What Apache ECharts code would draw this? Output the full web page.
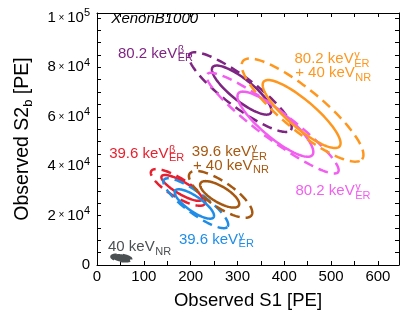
<!DOCTYPE html>
<html><head><meta charset="utf-8">
<script src="https://cdn.jsdelivr.net/npm/echarts@6/dist/echarts.min.js"></script>
<style>html,body{margin:0;padding:0;background:#fff}#c{width:407px;height:315px}</style>
</head><body><div id="c"></div>
<script>
const FONT = '"Liberation Sans", Arial, Helvetica, sans-serif';

// ---- axis ticks ----
const xTickLabels = [0, 100, 200, 300, 400, 500, 600];
const yTickValues = [0, 20000, 40000, 60000, 80000, 100000];
const yTickMantissa = ['0', '2', '4', '6', '8', '1'];
const yTickExponent = ['', '4', '4', '4', '4', '5'];

// ---- contour groups ----
const groupNames = ['80.2 keV β ER', '80.2 keV γ ER', '80.2 keV γ ER + 40 keV NR',
                    '39.6 keV β ER', '39.6 keV γ ER', '39.6 keV γ ER + 40 keV NR', '40 keV NR'];
const groupColors = ['#7e2482', '#f25ef0', '#ff971f', '#e6202e', '#1f8de8', '#a65810', '#4b5053'];

// ---- contour ellipses (data units): centre, end of major axis, end of minor axis ----
const contourGroup  = [0, 0, 1, 1, 2, 2, 3, 3, 4, 4, 5, 5, 6, 6];
const contourLevel  = ['outer','inner','outer','inner','outer','inner','outer','inner','outer','inner','outer','inner','outer','inner'];
const centerS1      = [306, 309, 375, 381, 439, 437, 173, 181, 211, 208, 264, 262, 52, 52];
const centerS2      = [70000, 70800, 57400, 57000, 62700, 61100, 31400, 31200, 25000, 24700, 28600, 28600, 2840, 2840];
const majorEndS1    = [414, 371, 515, 460, 566, 518, 230, 224, 279, 249, 330, 303, 73, 68];
const majorEndS2    = [54600, 61500, 37600, 44500, 42800, 48000, 24700, 26500, 15500, 19300, 20100, 24100, 2270, 2400];
const minorEndS1    = [326, 323, 393, 399, 467, 456, 184, 187, 224, 217, 279, 270, 53, 52.5];
const minorEndS2    = [74800, 74300, 62200, 61200, 69000, 65300, 34600, 33500, 28400, 27200, 32800, 31500, 4060, 3800];

// ---- annotations (anchor in data units) ----
const labelS1    = [44.8, 421.7, 423.2, 26, 202.6, 204.8, 423.9, 174.9, 23.5, 30.7];
const labelS2    = [85600, 83370, 77570, 45030, 45640, 40160, 29940, 10220, 7220, 99600];
const labelMain  = ['80.2 keV', '80.2 keV', '+ 40 keV', '39.6 keV', '39.6 keV', '+ 40 keV', '80.2 keV', '39.6 keV', '40 keV', 'XenonB1000'];
const labelSup   = ['β', 'γ', '', 'β', 'γ', '', 'γ', 'γ', '', ''];
const labelSub   = ['ER', 'ER', 'NR', 'ER', 'ER', 'NR', 'ER', 'ER', 'NR', ''];
const labelGroup = [0, 2, 2, 3, 5, 5, 1, 4, 6, -1];

const contourData = centerS1.map((v, i) => [v, centerS2[i], majorEndS1[i], majorEndS2[i], minorEndS1[i], minorEndS2[i]]);
const labelData = labelS1.map((v, i) => [v, labelS2[i]]);

const mctx = document.createElement('canvas').getContext('2d');
function textWidth(t, size, style) { mctx.font = (style || 'normal') + ' ' + size + 'px ' + FONT; return mctx.measureText(t).width; }

function renderContour(params, api) {
  const i = params.dataIndex;
  const cx = api.value(0), cy = api.value(1);
  const ax = api.value(2) - cx, ay = api.value(3) - cy;
  const bx = api.value(4) - cx, by = api.value(5) - cy;
  const pts = [];
  const N = 120;
  for (let k = 0; k < N; k++) {
    const t = 2 * Math.PI * k / N;
    pts.push(api.coord([cx + Math.cos(t) * ax + Math.sin(t) * bx, cy + Math.cos(t) * ay + Math.sin(t) * by]));
  }
  const g = contourGroup[i];
  const col = groupColors[g];
  const dashed = contourLevel[i] === 'outer';
  const isNR = g === 6;
  return {
    type: 'polygon',
    shape: { points: pts },
    style: {
      fill: (isNR && !dashed) ? col : 'none',
      stroke: col,
      lineWidth: isNR ? 2.6 : 2.5,
      lineDash: dashed ? [10, 6] : null
    }
  };
}

function renderLabel(params, api) {
  const i = params.dataIndex;
  const p = api.coord([api.value(0), api.value(1)]);
  const g = labelGroup[i];
  const col = g < 0 ? '#000' : groupColors[g];
  const italic = g < 0;
  const size = 15;
  const kids = [{
    type: 'text', x: p[0], y: p[1],
    style: { text: labelMain[i], fill: col, fontSize: size, fontFamily: FONT, fontStyle: italic ? 'italic' : 'normal', align: 'left', verticalAlign: 'middle' }
  }];
  const w = textWidth(labelMain[i], size, italic ? 'italic' : 'normal');
  if (labelSup[i]) kids.push({
    type: 'text', x: p[0] + w + 0.5, y: p[1] - 4,
    style: { text: labelSup[i], fill: col, fontSize: 11, fontFamily: FONT, align: 'left', verticalAlign: 'middle' }
  });
  if (labelSub[i]) kids.push({
    type: 'text', x: p[0] + w + 0.5, y: p[1] + 4.5,
    style: { text: labelSub[i], fill: col, fontSize: 11, fontFamily: FONT, align: 'left', verticalAlign: 'middle' }
  });
  return { type: 'group', children: kids };
}

const axisCommon = {
  axisLine: { show: true, onZero: false, lineStyle: { color: '#000', width: 1 } },
  axisTick: { show: true, inside: true, length: 4, lineStyle: { color: '#000', width: 1 } },
  splitLine: { show: false },
  minorTick: { show: false },
  minorSplitLine: { show: false }
};

const chart = echarts.init(document.getElementById('c'), null, { renderer: 'canvas' });
chart.setOption({
  animation: false,
  backgroundColor: '#fff',
  textStyle: { fontFamily: FONT },
  grid: { left: 97, right: 8, top: 13, bottom: 50, containLabel: false, outerBoundsMode: 'none' },
  xAxis: [
    Object.assign({}, axisCommon, {
      type: 'value', position: 'bottom', min: 0, max: 645, interval: 50,
      axisLabel: {
        fontSize: 15, color: '#000', margin: 4, fontFamily: FONT,
        showMaxLabel: false,
        formatter: v => (xTickLabels.indexOf(v) >= 0 ? String(v) : '')
      },
      name: 'Observed S1 [PE]', nameLocation: 'middle', nameGap: 26,
      nameTextStyle: { fontSize: 18.5, color: '#000', fontFamily: FONT }
    }),
    Object.assign({}, axisCommon, {
      type: 'value', position: 'top', min: 0, max: 645, interval: 50,
      axisLabel: { show: false }
    })
  ],
  yAxis: [
    Object.assign({}, axisCommon, {
      type: 'value', position: 'left', min: 0, max: 102000, interval: 5000,
      axisLabel: {
        color: '#000', margin: 7, fontFamily: FONT, showMaxLabel: false,
        formatter: v => {
          const i = yTickValues.indexOf(v);
          if (i < 0) return '';
          if (i === 0) return '{m|0}';
          return '{m|' + yTickMantissa[i] + '}{x| × }{m|10}{e|' + yTickExponent[i] + '}';
        },
        rich: {
          m: { fontSize: 15, lineHeight: 20, color: '#000', fontFamily: FONT },
          x: { fontSize: 10, lineHeight: 20, color: '#000', fontFamily: FONT },
          e: { fontSize: 11, lineHeight: 11, verticalAlign: 'top', color: '#000', fontFamily: FONT }
        }
      },
      name: '{a|Observed S2}{b|b}{a| [PE]}', nameLocation: 'middle', nameGap: 62, nameRotate: 90,
      nameTextStyle: {
        color: '#000',
        rich: {
          a: { fontSize: 19.5, lineHeight: 24, color: '#000', fontFamily: FONT },
          b: { fontSize: 13, lineHeight: 13, verticalAlign: 'bottom', color: '#000', fontFamily: FONT }
        }
      }
    }),
    Object.assign({}, axisCommon, {
      type: 'value', position: 'right', min: 0, max: 102000, interval: 5000,
      axisLabel: { show: false }
    })
  ],
  series: [
    {
      type: 'custom', xAxisIndex: 0, yAxisIndex: 0, silent: true,
      renderItem: renderContour, data: contourData, clip: true
    },
    {
      type: 'custom', xAxisIndex: 0, yAxisIndex: 0, silent: true,
      renderItem: renderLabel, data: labelData
    }
  ]
});
</script></body></html>
